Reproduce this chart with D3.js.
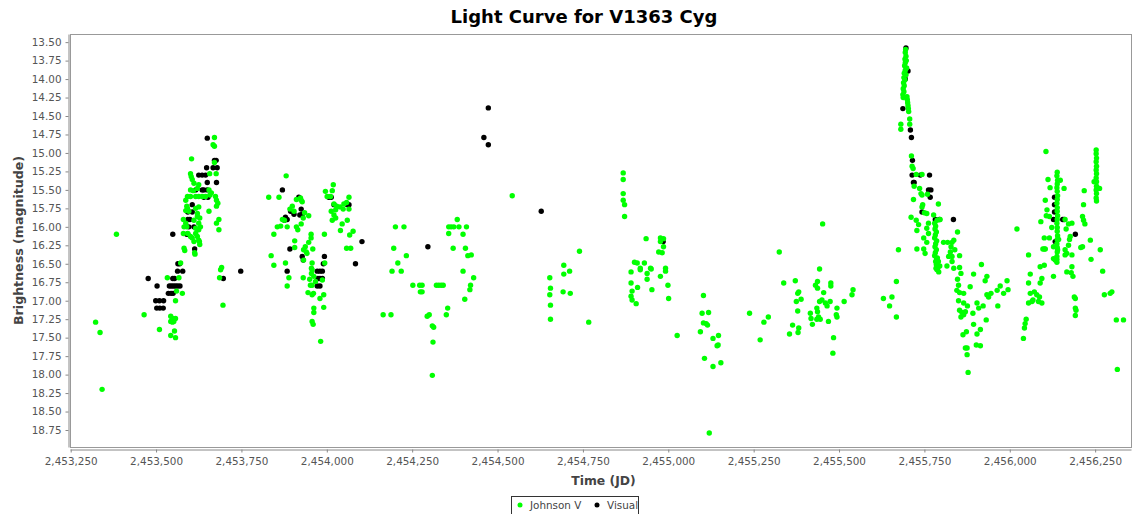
<!DOCTYPE html>
<html lang="en">
  <head>
    <meta charset='UTF-8'>
    <title>Light Curve for V1363 Cyg</title>
    <script src="https://d3js.org/d3.v7.min.js"></script>
    <style>
      body { margin: 0; background: #fff; font-family: "DejaVu Sans", sans-serif; }
      .tick text { fill: #555; font-size: 10.4px; font-family: "DejaVu Sans", sans-serif; }
      .tick line { stroke: #888; }
      .domain { stroke: #888; }
    </style>
  </head>
  <body>
    <svg class="main-svg" width="1133" height="514"></svg>
    <script>
    // ticks
    var yTicks = [13.50,13.75,14.00,14.25,14.50,14.75,15.00,15.25,15.50,15.75,16.00,16.25,16.50,16.75,17.00,17.25,17.50,17.75,18.00,18.25,18.50,18.75];
    var xTicks = [2453250,2453500,2453750,2454000,2454250,2454500,2454750,2455000,2455250,2455500,2455750,2456000,2456250];
    var seriesNames = ["Johnson V", "Visual"];

    // [JD, magnitude]
    var visual = [
      [2453477,16.7],[2453503,16.8],[2453499,17.0],[2453510,17.0],[2453522,17.0],[2453502,17.1],[2453511,17.1],[2453521,17.1],
      [2453536,16.9],[2453544,16.9],[2453550,16.9],[2453539,16.8],[2453545,16.8],[2453551,16.8],[2453557,16.8],[2453563,16.8],[2453570,16.8],
      [2453549,16.7],[2453554,16.7],[2453563,16.6],[2453578,16.6],[2453564,16.5],[2453569,16.5],[2453613,16.3],[2453549,16.1],
      [2453590,16.1],[2453593,16.1],[2453611,16.0],[2453596,16.0],[2453593,15.9],[2453599,15.9],[2453593,15.8],[2453606,15.8],[2453606,15.7],
      [2453640,15.6],[2453652,15.6],[2453616,15.5],[2453635,15.5],[2453640,15.5],[2453650,15.5],[2453650,15.4],[2453677,15.4],
      [2453625,15.3],[2453635,15.3],[2453645,15.3],[2453648,15.2],[2453667,15.2],[2453679,15.2],[2453671,15.1],[2453676,15.1],[2453650,14.8],
      [2453697,16.7],[2453748,16.6],
      [2453870,15.5],[2453918,15.6],[2453925,15.76],[2453928,15.83],[2453921,15.84],[2453876,15.91],[2453879,15.87],[2453884,15.9],[2453894,15.79],[2453904,15.83],
      [2453892,16.3],[2453884,16.6],[2453928,16.4],[2453931,16.45],
      [2453972,16.6],[2453980,16.6],[2453987,16.6],[2453990,16.5],[2453993,16.4],[2453974,16.7],[2453980,16.7],[2453987,16.7],[2453972,16.8],[2453980,16.8],
      [2454006,15.6],[2454013,15.6],[2454021,15.7],[2454060,15.7],[2454065,15.7],[2454103,16.2],[2454084,16.5],[2454296,16.27],
      [2454473,14.39],[2454460,14.79],[2454473,14.89],[2454628,15.79],[2454985,16.2],
      [2455696,13.58],[2455702,13.89],[2455694,14.0],[2455687,14.4],[2455709,14.69],[2455712,14.79],[2455715,15.1],[2455714,15.3],[2455738,15.3],[2455765,15.3],
      [2455718,15.4],[2455720,15.4],[2455762,15.5],[2455769,15.5],[2455767,15.6],[2455743,15.8],[2455782,15.9],[2455794,15.9],[2455835,15.9],
      [2456131,15.6],[2456131,15.7],[2456131,15.8],[2456128,15.9],[2456155,15.9],[2456159,15.9],[2456192,16.1],[2456133,16.2]
    ];

    var johnsonV = [
      [2453323,17.29],[2453336,17.43],[2453342,18.20],[2453384,16.10],
      [2453465,17.19],[2453510,17.39],[2453533,16.69],[2453567,16.69],[2453572,16.49],[2453577,16.90],[2453560,16.87],[2453557,17.00],
      [2453543,17.21],[2453548,17.24],[2453557,17.24],[2453543,17.28],[2453552,17.28],[2453548,17.29],[2453554,17.41],[2453543,17.47],[2453557,17.50],
      [2453582,16.29],[2453584,16.32],[2453613,16.35],[2453614,16.37],[2453627,16.20],[2453689,16.58],[2453692,16.55],[2453686,16.69],[2453696,17.06],
      [2453671,14.79],[2453667,14.89],[2453671,14.91],[2453604,15.08],[2453671,15.13],[2453601,15.28],[2453603,15.32],[2453606,15.36],[2453611,15.41],
      [2453657,15.28],[2453676,15.28],[2453625,15.43],[2453621,15.48],[2453601,15.50],[2453609,15.51],[2453655,15.50],[2453662,15.54],[2453658,15.57],
      [2453592,15.59],[2453601,15.59],[2453616,15.59],[2453625,15.59],[2453635,15.59],[2453645,15.59],[2453674,15.59],[2453677,15.64],[2453681,15.68],[2453677,15.72],
      [2453655,15.79],[2453587,15.64],[2453590,15.72],[2453592,15.75],[2453587,15.78],[2453596,15.79],[2453616,15.75],[2453625,15.73],[2453621,15.82],
      [2453684,15.90],[2453677,15.95],[2453684,16.04],[2453580,15.90],[2453587,15.95],[2453590,16.00],[2453582,16.00],
      [2453611,15.91],[2453621,15.86],[2453628,15.88],[2453625,15.95],[2453616,16.02],[2453625,16.04],[2453630,16.00],
      [2453616,16.09],[2453621,16.13],[2453625,16.18],[2453580,16.09],[2453593,16.09],[2453601,16.13],[2453606,16.15],[2453611,16.20],[2453628,16.24],
      [2453830,15.60],[2453860,15.60],[2453845,16.10],[2453855,16.00],[2453837,16.39],[2453845,16.52],
      [2453881,15.31],[2453911,15.63],[2453923,15.61],[2453928,15.66],[2453925,15.64],[2453899,15.72],[2453892,15.76],[2453904,15.79],
      [2453935,15.81],[2453947,15.85],[2453931,15.88],[2453870,15.90],[2453876,15.91],[2453884,16.00],[2453911,16.00],[2453915,16.04],[2453925,15.96],[2453865,15.99],
      [2453906,16.19],[2453906,16.28],[2453954,16.10],[2453954,16.15],[2453947,16.21],[2453937,16.27],[2453932,16.31],[2453940,16.34],[2453959,16.30],[2453942,16.36],
      [2453932,16.45],[2453957,16.49],[2453955,16.56],[2453994,16.49],[2453879,16.49],[2453889,16.69],[2453884,16.80],[2453931,16.69],
      [2453957,16.58],[2453955,16.63],[2453962,16.67],[2453950,16.71],[2453967,16.74],[2453987,16.72],[2453991,16.92],[2453980,16.97],[2453991,17.09],[2453982,17.55],
      [2453952,16.79],[2453957,16.79],[2453945,16.89],[2453961,16.90],[2453957,16.92],[2453962,17.10],[2453962,17.16],[2453957,17.28],[2453960,17.32],
      [2453996,15.52],[2454001,15.59],[2454011,15.59],[2454016,15.51],[2454019,15.43],[2454021,15.69],[2454029,15.72],[2454039,15.73],[2454026,15.77],
      [2454013,15.79],[2454048,15.76],[2454050,15.69],[2454058,15.67],[2454065,15.60],[2454065,15.76],[2454021,15.84],[2454026,15.88],[2454016,15.91],
      [2454060,15.91],[2454045,15.96],[2454077,16.06],[2454067,16.11],[2454040,16.05],[2453993,16.10],[2454058,16.29],[2454070,16.29],
      [2454201,16.00],[2454226,16.00],[2454196,16.29],[2454208,16.49],[2454233,16.39],[2454191,16.60],[2454218,16.60],[2454252,16.79],[2454272,16.79],
      [2454279,16.79],[2454274,16.88],[2454279,16.88],[2454165,17.19],[2454188,17.19],[2454294,17.21],[2454300,17.19],[2454309,17.34],[2454313,17.36],
      [2454311,17.56],[2454309,18.01],[2454321,16.79],[2454328,16.79],[2454335,16.79],[2454341,16.79],[2454350,17.19],[2454354,17.10],
      [2454357,16.00],[2454357,16.09],[2454364,16.00],[2454372,16.00],[2454382,15.90],[2454387,16.00],[2454399,16.10],[2454409,16.00],
      [2454370,16.29],[2454406,16.29],[2454413,16.39],[2454423,16.38],[2454399,16.60],[2454430,16.69],[2454421,16.79],[2454419,16.85],[2454404,16.98],
      [2454543,15.58],
      [2454653,16.69],[2454655,16.83],[2454653,16.92],[2454655,17.06],[2454655,17.25],[2454694,16.52],[2454694,16.64],[2454711,16.60],[2454692,16.88],
      [2454713,16.90],[2454740,16.33],[2454767,17.29],
      [2454868,15.27],[2454868,15.36],[2454868,15.55],[2454868,15.64],[2454872,15.70],[2454872,15.86],
      [2454935,16.16],[2454977,16.15],[2454986,16.16],[2454977,16.20],[2454986,16.27],[2454972,16.34],[2454982,16.35],[2454918,16.56],[2454948,16.56],[2454992,16.56],
      [2454901,16.48],[2454909,16.49],[2454930,16.49],[2454918,16.58],[2454891,16.61],[2454938,16.63],[2454950,16.57],[2454938,16.71],[2454891,16.76],
      [2454910,16.82],[2454894,16.87],[2454952,16.85],[2454891,16.94],[2454894,16.99],[2454906,17.04],[2454977,16.67],[2454992,16.60],[2454999,16.79],
      [2455001,16.97],[2455026,17.47],
      [2455103,16.93],[2455099,17.17],[2455118,17.16],[2455103,17.30],[2455111,17.31],[2455115,17.33],[2455094,17.42],[2455131,17.51],[2455147,17.47],
      [2455143,17.61],[2455146,17.60],[2455106,17.78],[2455131,17.89],[2455154,17.84],[2455120,18.79],
      [2455238,17.17],[2455269,17.53],[2455280,17.29],[2455293,17.22],[2455325,16.34],
      [2455338,16.76],[2455364,17.33],[2455355,17.45],[2455372,16.73],[2455379,16.90],[2455382,16.88],[2455375,17.01],[2455389,16.98],[2455379,17.14],
      [2455382,17.37],[2455380,17.43],[2455452,15.96],[2455443,16.57],
      [2455437,16.74],[2455431,16.79],[2455437,16.83],[2455455,16.89],[2455476,16.76],[2455476,16.80],[2455443,17.01],[2455450,16.99],[2455460,17.03],
      [2455465,17.07],[2455474,17.01],[2455435,17.10],[2455437,17.15],[2455416,17.17],[2455418,17.24],[2455440,17.22],[2455445,17.25],[2455435,17.25],
      [2455422,17.32],[2455469,17.28],[2455494,17.10],[2455492,17.19],[2455494,17.22],[2455484,17.50],[2455482,17.71],[2455515,17.01],[2455538,16.92],[2455541,16.85],
      [2455630,16.97],[2455648,17.07],[2455655,16.95],[2455668,17.22],[2455668,16.74],[2455674,16.31],
      [2455695,13.60],[2455694,13.64],[2455696,13.69],[2455693,13.73],[2455697,13.75],[2455694,13.78],[2455692,13.82],[2455698,13.85],[2455694,13.88],
      [2455691,13.92],[2455696,13.94],[2455690,13.98],[2455693,14.01],[2455689,14.05],[2455691,14.09],[2455688,14.13],[2455690,14.17],[2455687,14.21],[2455688,14.25],
      [2455699,14.24],[2455700,14.28],[2455701,14.32],[2455702,14.36],[2455703,14.40],[2455704,14.44],[2455707,14.54],[2455707,14.61],[2455681,14.61],[2455681,14.68],
      [2455712,15.04],[2455714,15.18],[2455717,15.21],[2455726,15.29],[2455743,15.29],[2455720,15.45],[2455736,15.48],[2455740,15.55],[2455743,15.57],[2455759,15.56],
      [2455718,15.63],[2455745,15.70],[2455743,15.73],[2455791,15.69],[2455750,15.81],[2455757,15.82],
      [2455711,15.87],[2455726,15.91],[2455733,15.97],[2455762,15.95],[2455728,16.05],[2455757,16.02],[2455762,16.09],[2455748,16.15],[2455757,16.21],
      [2455748,16.30],[2455728,16.30],[2455752,16.36],[2455777,15.84],[2455787,15.91],[2455796,15.90],
      [2455780,15.95],[2455783,15.99],[2455781,16.03],[2455785,16.07],[2455782,16.11],[2455780,16.15],[2455786,16.19],[2455783,16.23],[2455781,16.27],
      [2455785,16.31],[2455782,16.35],[2455780,16.39],[2455786,16.43],[2455783,16.47],[2455785,16.51],[2455784,16.56],
      [2455788,16.42],[2455791,16.47],[2455795,16.53],[2455787,16.58],[2455792,16.61],[2455789,16.56],
      [2455806,16.21],[2455818,16.21],[2455831,16.21],[2455836,16.18],[2455847,16.07],[2455828,16.27],[2455826,16.34],[2455839,16.31],[2455831,16.40],
      [2455853,16.39],[2455821,16.40],[2455816,16.53],[2455836,16.56],[2455853,16.55],[2455831,16.47],[2455857,16.63],[2455917,16.51],
      [2455847,16.71],[2455850,16.79],[2455845,16.86],[2455853,16.89],[2455865,16.90],[2455850,17.00],[2455865,17.03],[2455876,17.07],[2455853,17.13],
      [2455860,17.16],[2455865,17.19],[2455857,17.22],[2455870,17.15],[2455892,17.17],[2455904,17.03],[2455922,17.07],[2455909,17.10],
      [2455884,16.81],[2455894,16.64],[2455933,16.67],[2455928,16.73],[2455933,16.92],[2455938,16.95],[2455945,16.90],[2455963,16.86],[2455982,16.90],
      [2455972,16.80],[2455992,16.73],[2455995,16.85],[2455965,17.07],
      [2455863,17.46],[2455873,17.42],[2455870,17.64],[2455875,17.64],[2455875,17.73],[2455878,17.97],[2455902,17.60],[2455914,17.61],[2455894,17.32],
      [2455914,17.39],[2455904,17.45],[2455931,17.26],
      [2456021,16.03],[2456040,17.51],[2456043,17.37],[2456045,17.31],[2456048,17.25],[2456055,17.03],[2456065,17.01],[2456068,16.99],[2456060,16.90],
      [2456072,16.88],[2456079,16.92],[2456087,16.95],[2456084,17.01],[2456094,17.03],[2456089,16.76],[2456094,16.70],[2456060,16.64],[2456055,16.76],
      [2456055,16.38],[2456089,16.54],[2456101,16.52],[2456097,16.30],[2456104,16.30],[2456128,16.67],[2456128,16.43],[2456133,16.45],[2456138,16.40],
      [2456140,16.31],[2456162,16.38],[2456167,16.36],[2456167,16.61],[2456180,16.62],[2456185,16.67],[2456182,16.54],[2456189,16.95],[2456192,16.97],
      [2456192,17.10],[2456194,17.13],[2456192,17.20],[2456208,16.28],[2456236,16.18],[2456238,16.44],[2456265,16.31],[2456272,16.60],[2456277,16.92],
      [2456294,16.90],[2456299,16.88],[2456312,17.26],[2456333,17.26],[2456315,17.93],
      [2456106,14.98],[2456112,15.36],[2456118,15.47],[2456104,15.64],[2456109,15.77],[2456116,15.86],[2456107,15.85],[2456091,15.93],[2456123,16.01],
      [2456101,16.15],[2456116,16.15],[2456143,16.17],[2456159,15.48],[2456148,15.37],[2456162,15.90],[2456172,15.96],[2456182,15.95],[2456165,16.03],
      [2456177,16.13],[2456175,16.17],[2456172,16.25],[2456162,16.31],[2456182,16.38],[2456138,16.44],[2456138,16.48],[2456101,16.30],[2456128,16.27],
      [2456218,15.51],[2456216,15.70],[2456213,15.86],[2456216,15.91],[2456220,15.96],[2456213,16.27],
      [2456139,15.26],[2456138,15.31],[2456140,15.37],[2456139,15.42],[2456138,15.47],[2456139,15.52],[2456140,15.58],[2456139,15.63],[2456138,15.68],
      [2456139,15.74],[2456139,15.79],[2456140,15.85],[2456139,15.90],[2456138,15.95],[2456139,16.01],[2456139,16.06],[2456140,16.12],[2456139,16.17],
      [2456138,16.23],[2456139,16.28],[2456139,16.34],
      [2456253,14.96],[2456253,15.01],[2456254,15.07],[2456253,15.12],[2456254,15.18],[2456253,15.23],[2456254,15.28],[2456253,15.34],[2456254,15.39],
      [2456254,15.45],[2456253,15.50],[2456254,15.55],[2456253,15.61],[2456254,15.65],[2456247,15.39],[2456263,15.48]
    ];

    var svg = d3.select("svg");
    var plotLeft = 70, plotRight = 1131, plotTop = 34, plotBottom = 447;

    var xs = d3.scaleLinear().domain([2453248, 2456355]).range([plotLeft, plotRight]);
    var ys = d3.scaleLinear().domain([13.39, 18.98]).range([plotTop, plotBottom]);

    // title
    svg.append("text")
      .attr("x", 584).attr("y", 23)
      .attr("text-anchor", "middle")
      .style("font-size", "18px").style("font-weight", "bold").style("fill", "#000")
      .text("Light Curve for V1363 Cyg");

    // plot outline
    svg.append("rect")
      .attr("x", plotLeft + 0.5).attr("y", plotTop + 0.5)
      .attr("width", plotRight - plotLeft).attr("height", plotBottom - plotTop)
      .style("fill", "none").style("stroke", "#999").style("stroke-width", 1);

    svg.append("g")
      .attr("transform", "translate(" + (plotLeft - 1.5) + ",0)")
      .call(d3.axisLeft(ys).tickValues(yTicks).tickFormat(d3.format(".2f")).tickSizeInner(3).tickSizeOuter(0).tickPadding(4));

    svg.append("g")
      .attr("transform", "translate(0," + (plotBottom + 2.5) + ")")
      .call(d3.axisBottom(xs).tickValues(xTicks).tickFormat(d3.format(",")).tickSizeInner(3).tickSizeOuter(0).tickPadding(5));

    svg.append("text")
      .attr("transform", "translate(23," + ((plotTop + plotBottom) / 2) + ") rotate(-90)")
      .attr("text-anchor", "middle")
      .style("font-size", "12.6px").style("font-weight", "bold").style("fill", "#444")
      .text("Brightness (magnitude)");

    svg.append("text")
      .attr("x", (plotLeft + plotRight) / 2 + 3).attr("y", 485)
      .attr("text-anchor", "middle")
      .style("font-size", "12.4px").style("font-weight", "bold").style("fill", "#444")
      .text("Time (JD)");

    var plot = svg.append("g");

    plot.selectAll(".vis").data(visual).enter().append("circle")
      .attr("class", "vis")
      .attr("cx", function(d) { return xs(d[0]); })
      .attr("cy", function(d) { return ys(d[1]); })
      .attr("r", 2.7)
      .style("fill", "#000");

    plot.selectAll(".jv").data(johnsonV).enter().append("circle")
      .attr("class", "jv")
      .attr("cx", function(d) { return xs(d[0]); })
      .attr("cy", function(d) { return ys(d[1]); })
      .attr("r", 2.7)
      .style("fill", "#00ff00");

    // legend
    var lg = svg.append("g");
    lg.append("rect")
      .attr("x", 511.5).attr("y", 496.5).attr("width", 127).attr("height", 24)
      .style("fill", "#fff").style("stroke", "#333");
    var colors = ["#00ff00", "#000"];
    var lx = [520, 597];
    seriesNames.forEach(function(n, i) {
      lg.append("circle").attr("cx", lx[i]).attr("cy", 505).attr("r", 2.5).style("fill", colors[i]);
      lg.append("text").attr("x", lx[i] + 10).attr("y", 509)
        .style("font-size", "10.4px").style("fill", "#444").text(n);
    });
    </script>
  </body>
</html>
